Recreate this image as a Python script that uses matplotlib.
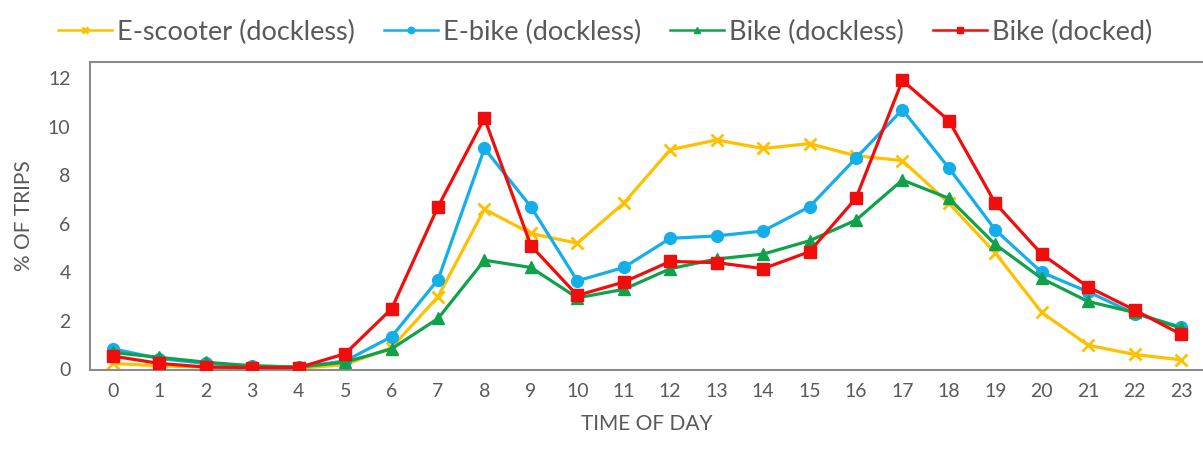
import matplotlib
matplotlib.use("Agg")
import matplotlib.pyplot as plt

hours = list(range(24))
escooter = [0.25, 0.15, 0.1, 0.05, 0.05, 0.2, 0.9, 3.0, 6.6, 5.6, 5.2, 6.85, 9.05, 9.45, 9.1, 9.3, 8.8, 8.6, 6.85, 4.8, 2.35, 1.0, 0.62, 0.4]
ebike = [0.85, 0.45, 0.25, 0.15, 0.1, 0.35, 1.35, 3.7, 9.1, 6.7, 3.65, 4.2, 5.4, 5.5, 5.7, 6.7, 8.7, 10.7, 8.3, 5.75, 4.0, 3.2, 2.3, 1.75]
bike_dockless = [0.7, 0.5, 0.3, 0.15, 0.1, 0.3, 0.85, 2.1, 4.5, 4.2, 2.95, 3.3, 4.15, 4.55, 4.75, 5.3, 6.15, 7.8, 7.05, 5.15, 3.75, 2.8, 2.35, 1.7]
bike_docked = [0.55, 0.25, 0.1, 0.08, 0.08, 0.65, 2.5, 6.7, 10.35, 5.1, 3.05, 3.6, 4.45, 4.4, 4.15, 4.85, 7.05, 11.9, 10.25, 6.85, 4.75, 3.4, 2.45, 1.45]
labels = ["E-scooter (dockless)", "E-bike (dockless)", "Bike (dockless)", "Bike (docked)"]
yticks = [0, 2, 4, 6, 8, 10, 12]

plt.rcParams['font.family'] = ['Lato', 'DejaVu Sans']
gray = '#595959'

fig = plt.figure(figsize=(12.03, 4.49), dpi=100)
ax = fig.add_axes([90/1203, 1-369.5/449, 1-90/1203, (369.5-62)/449])

ax.plot(hours, escooter, color='#FFC000', marker='x', ms=8.5, mew=2.0, lw=2.3, label=labels[0], zorder=2)
ax.plot(hours, ebike, color='#14AEEB', marker='o', ms=8.5, lw=2.3, label=labels[1], zorder=3)
ax.plot(hours, bike_dockless, color='#10A24A', marker='^', ms=8.5, lw=2.3, label=labels[2], zorder=4)
ax.plot(hours, bike_docked, color='#F20D0D', marker='s', ms=8.5, lw=2.3, label=labels[3], zorder=5)

ax.set_xlim(-0.495, 23.474)
ax.set_ylim(0, 12.66)
ax.set_xticks(hours)
ax.set_xticklabels([str(h) for h in hours])
ax.set_yticks(yticks)
ax.tick_params(length=0, labelsize=14, colors=gray, pad=10)
ax.tick_params(axis='y', pad=14)
for s in ['left', 'top', 'bottom']:
    ax.spines[s].set_color('#8c8c8c')
    ax.spines[s].set_linewidth(1.5)
ax.spines['right'].set_visible(False)

ax.set_ylabel('% OF TRIPS', fontsize=15, color=gray, labelpad=10)
ax.set_xlabel('TIME OF DAY', fontsize=15, color=gray, labelpad=10)

leg = fig.legend(loc='upper center', bbox_to_anchor=(0.503, 1.01), ncol=4, frameon=False,
                 fontsize=19.5, handlelength=2.0, columnspacing=1.05, handletextpad=0.2,
                 labelcolor=gray, markerscale=0.55)
for ln in leg.get_lines():
    ln.set_linewidth(1.8)

fig.savefig('out.png', dpi=100)
